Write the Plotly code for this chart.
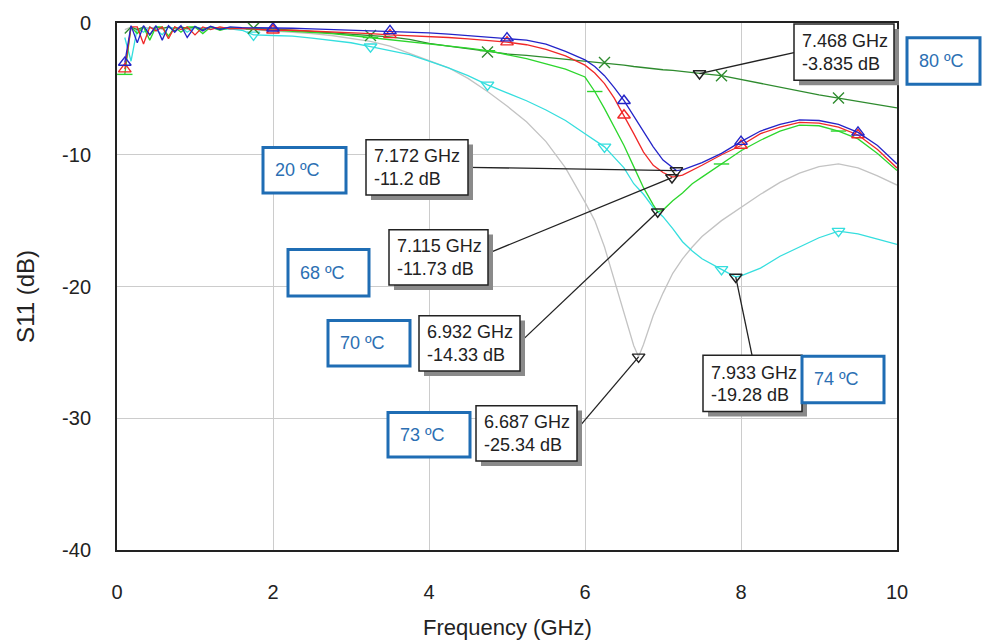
import plotly.graph_objects as go

# ---------------------------------------------------------------------------
# Measured S11 of the tunable antenna at six temperatures
# ---------------------------------------------------------------------------
FREQ_GHZ = [0.1, 0.18, 0.26, 0.34, 0.42, 0.5, 0.58, 0.66, 0.74, 0.82, 0.9, 1.0, 1.1, 1.2, 1.32, 1.45, 1.6,
            1.75, 2.0, 2.25, 2.5, 2.75, 3.0, 3.25, 3.5, 3.75, 4.0, 4.25, 4.5, 4.75, 5.0, 5.25, 5.5, 5.75,
            6.0, 6.125, 6.25, 6.375, 6.5, 6.625, 6.75, 6.875, 7.0, 7.125, 7.25, 7.375, 7.5,
            7.75, 8.0, 8.25, 8.5, 8.75, 9.0, 9.25, 9.5, 9.75, 10.0]

S11_20C = [-3.0, -0.2, -1.5, -0.2, -0.9, -0.2, -1.3, -0.2, -0.7, -0.2, -1.1, -0.25, -0.6, -0.25, -0.5, -0.3, -0.35,
           -0.35, -0.4, -0.4, -0.45, -0.5, -0.5, -0.55, -0.6, -0.7, -0.75, -0.85, -0.95, -1.05, -1.15, -1.3, -1.6, -2.15,
           -2.8, -3.3, -4.0, -4.9, -5.9, -7.1, -8.3, -9.4, -10.4, -11.0, -11.15, -10.9, -10.6,
           -9.9, -9.0, -8.2, -7.7, -7.35, -7.4, -7.7, -8.3, -9.3, -10.7]

S11_68C = [-3.5, -0.3, -0.3, -1.6, -0.3, -0.6, -0.3, -1.2, -0.3, -0.5, -0.3, -0.9, -0.3, -0.5, -0.3, -0.45, -0.4,
           -0.45, -0.55, -0.55, -0.6, -0.65, -0.7, -0.8, -0.9, -0.95, -1.0, -1.1, -1.2, -1.3, -1.45, -1.65, -2.0, -2.5,
           -3.2, -3.8, -4.6, -5.7, -7.0, -8.4, -9.8, -10.8, -11.35, -11.7, -11.55, -11.2, -10.8,
           -10.0, -9.3, -8.4, -7.9, -7.55, -7.6, -7.9, -8.5, -9.6, -11.0]

S11_70C = [-3.9, -0.3, -0.8, -0.3, -1.3, -0.3, -0.3, -1.0, -0.3, -0.7, -0.3, -0.3, -0.8, -0.3, -0.55, -0.35, -0.4,
           -0.45, -0.5, -0.6, -0.7, -0.8, -0.95, -1.1, -1.25, -1.4, -1.55, -1.7, -1.9, -2.1, -2.4, -2.7, -3.1, -3.5,
           -4.1, -5.2, -6.5, -7.9, -9.3, -10.9, -12.5, -13.8, -14.2, -13.5, -12.9, -12.2, -11.7,
           -10.7, -9.7, -8.9, -8.2, -7.75, -7.8, -8.2, -8.8, -9.9, -11.2]

S11_73C = [-0.5, -0.3, -0.6, -0.3, -0.4, -0.3, -0.5, -0.3, -0.4, -0.3, -0.5, -0.35, -0.4, -0.35, -0.45, -0.4, -0.45,
           -0.5, -0.6, -0.7, -0.8, -0.95, -1.15, -1.4, -1.75, -2.3, -2.8, -3.4, -4.2, -5.2, -6.3, -7.5, -9.0, -11.0,
           -13.6, -15.0, -17.0, -19.5, -22.1, -24.5, -24.4, -22.2, -20.5, -19.0, -17.9, -17.0, -16.2,
           -15.0, -14.0, -13.0, -12.1, -11.4, -10.9, -10.7, -11.0, -11.6, -12.3]

S11_74C = [-1.1, -2.9, -0.4, -0.7, -0.3, -0.5, -0.9, -0.3, -0.4, -0.3, -0.7, -0.3, -0.4, -0.35, -0.5, -0.45, -0.55,
           -0.9, -0.95, -1.0, -1.15, -1.3, -1.5, -1.8, -2.1, -2.4, -2.9, -3.4, -4.0, -4.7, -5.3, -5.9, -6.6, -7.4,
           -8.4, -8.9, -9.4, -10.2, -11.0, -12.2, -13.0, -14.0, -14.7, -15.6, -16.6, -17.3, -17.9,
           -18.7, -19.2, -18.6, -17.7, -17.0, -16.3, -15.8, -16.0, -16.4, -16.8]

S11_80C = [-0.8, -0.3, -0.5, -0.3, -0.9, -0.3, -0.4, -0.3, -0.6, -0.3, -0.4, -0.3, -0.5, -0.3, -0.4, -0.35, -0.4,
           -0.4, -0.45, -0.55, -0.65, -0.75, -0.85, -0.95, -1.05, -1.25, -1.55, -1.75, -1.95, -2.2, -2.35, -2.45, -2.6, -2.75,
           -2.9, -2.95, -3.0, -3.1, -3.2, -3.3, -3.4, -3.5, -3.55, -3.6, -3.7, -3.8, -3.85,
           -4.0, -4.3, -4.6, -4.9, -5.2, -5.45, -5.7, -5.95, -6.2, -6.45]

# marker read-outs (frequency GHz, S11 dB)
READOUT_20C = (7.172, -11.2)
READOUT_68C = (7.115, -11.73)
READOUT_70C = (6.932, -14.33)
READOUT_73C = (6.687, -25.34)
READOUT_74C = (7.933, -19.28)
READOUT_80C = (7.468, -3.835)

# frequencies carrying the trace symbols
SYMBOLS_20C = [0.1, 2.0, 3.5, 5.0, 6.5, 8.0, 9.5]
SYMBOLS_68C = [0.1, 2.0, 3.5, 5.0, 6.5, 8.0, 9.5]
SYMBOLS_70C = [0.1, 1.75, 3.25, 4.75, 6.125, 7.75, 9.25]
SYMBOLS_74C = [1.75, 3.25, 4.75, 6.25, 7.75, 9.25]
SYMBOLS_80C = [1.75, 3.25, 4.75, 6.25, 7.75, 9.25]

X_TICKS = [0, 2, 4, 6, 8, 10]
Y_TICKS = [-40, -30, -20, -10, 0]
X_TICK_TEXT = ["0", "2", "4", "6", "8", "10"]
Y_TICK_TEXT = ["-40", "-30", "-20", "-10", "0"]

# ---------------------------------------------------------------------------
# geometry helpers (plot area in pixels)
# ---------------------------------------------------------------------------
W, H = 982, 642
L, R, T, B = 117, 897, 17, 550
X_RANGE = (0, 10)
Y_RANGE = (-40, 0)


def paper_x(px):
    return (px - L) / (R - L)


def paper_y(py):
    return (B - py) / (B - T)


def data_x(px):
    return X_RANGE[0] + (px - L) / (R - L) * (X_RANGE[1] - X_RANGE[0])


def data_y(py):
    return Y_RANGE[0] + (B - py) / (B - T) * (Y_RANGE[1] - Y_RANGE[0])


def merged(freq, vals, readout):
    pts = sorted(list(zip(freq, vals)) + [readout])
    return [p[0] for p in pts], [p[1] for p in pts]


def picks(freq, vals, wanted):
    lookup = dict(zip(freq, vals))
    return wanted, [lookup[f] for f in wanted]


series = [
    dict(vals=S11_73C, ro=READOUT_73C, sym=None, color="#c3c3c3", symbol=None,
         label="73", lbox=(388, 411, 470, 456), rbox=(476, 404, 577, 460), anchor=(577, 428)),
    dict(vals=S11_74C, ro=READOUT_74C, sym=SYMBOLS_74C, color="#35dede", symbol="triangle-down-open",
         label="74", lbox=(802, 354, 884, 401), rbox=(703, 353, 802, 410), anchor=(752, 353)),
    dict(vals=S11_80C, ro=READOUT_80C, sym=SYMBOLS_80C, color="#2e8b2e", symbol="x-thin-open",
         label="80", lbox=(907, 32, 980, 79), rbox=(794, 18, 894, 75), anchor=(794, 47)),
    dict(vals=S11_70C, ro=READOUT_70C, sym=SYMBOLS_70C, color="#2cd62c", symbol="line-ew-open",
         label="70", lbox=(328, 318, 410, 364), rbox=(419, 313, 520, 369), anchor=(520, 340)),
    dict(vals=S11_68C, ro=READOUT_68C, sym=SYMBOLS_68C, color="#f02828", symbol="triangle-up-open",
         label="68", lbox=(288, 246, 369, 293), rbox=(389, 226, 488, 282), anchor=(488, 250)),
    dict(vals=S11_20C, ro=READOUT_20C, sym=SYMBOLS_20C, color="#2424c8", symbol="triangle-up-open",
         label="20", lbox=(263, 143, 346, 189), rbox=(366, 135, 468, 191), anchor=(468, 163)),
]

fig = go.Figure()
shapes = []
annotations = []

for s in series:
    fx, fy = merged(FREQ_GHZ, s["vals"], s["ro"])
    fig.add_trace(go.Scatter(x=fx, y=fy, mode="lines",
                             line=dict(color=s["color"], width=1.3), hoverinfo="skip"))
    if s["sym"]:
        mx, my = picks(FREQ_GHZ, s["vals"], s["sym"])
        fig.add_trace(go.Scatter(x=mx, y=my, mode="markers",
                                 marker=dict(symbol=s["symbol"], size=11, color=s["color"],
                                             line=dict(color=s["color"], width=1.4)),
                                 hoverinfo="skip"))

for s in series:
    f, v = s["ro"]
    # readout triangle on the curve
    fig.add_trace(go.Scatter(x=[f], y=[v], mode="markers",
                             marker=dict(symbol="triangle-down-open", size=11, color="#222222",
                                         line=dict(color="#222222", width=1.4)),
                             hoverinfo="skip"))
    # leader line from readout box to the marker
    ax, ay = s["anchor"]
    shapes.append(dict(type="line", xref="x", yref="y", x0=data_x(ax), y0=data_y(ay), x1=f, y1=v,
                       line=dict(color="#222222", width=1.3), layer="above"))
    # readout box with drop shadow
    x0, y0, x1, y1 = s["rbox"]
    shapes.append(dict(type="rect", xref="paper", yref="paper",
                       x0=paper_x(x0 + 5), x1=paper_x(x1 + 5), y0=paper_y(y1 + 5), y1=paper_y(y0 + 5),
                       fillcolor="#8a8a8a", line=dict(width=0), layer="above"))
    shapes.append(dict(type="rect", xref="paper", yref="paper",
                       x0=paper_x(x0), x1=paper_x(x1), y0=paper_y(y1), y1=paper_y(y0),
                       fillcolor="white", line=dict(color="#222222", width=1.5), layer="above"))
    yc = (y0 + y1) / 2
    for line_text, dy in ((f"{f:g} GHz", -11), (f"{v:g} dB", 12)):
        annotations.append(dict(xref="paper", yref="paper", x=paper_x(x0 + 6), y=paper_y(yc + dy),
                                xanchor="left", yanchor="middle", showarrow=False,
                                text=line_text, font=dict(size=18, color="#222222")))
    # temperature label
    x0, y0, x1, y1 = s["lbox"]
    shapes.append(dict(type="rect", xref="paper", yref="paper",
                       x0=paper_x(x0), x1=paper_x(x1), y0=paper_y(y1), y1=paper_y(y0),
                       fillcolor="white", line=dict(color="#1f6db4", width=3), layer="above"))
    annotations.append(dict(xref="paper", yref="paper", x=paper_x(x0 + 10), y=paper_y((y0 + y1) / 2),
                            xanchor="left", yanchor="middle", showarrow=False,
                            text=f"{s['label']} ºC",
                            font=dict(size=18, color="#2c6fb3")))

# axis titles
annotations.append(dict(xref="paper", yref="paper", x=0.5, y=paper_y(628), xanchor="center",
                        yanchor="middle", showarrow=False, text="Frequency (GHz)",
                        font=dict(size=22, color="#222222")))
annotations.append(dict(xref="paper", yref="paper", x=paper_x(26), y=paper_y(294), xanchor="center",
                        yanchor="middle", showarrow=False, text="S11 (dB)", textangle=-90,
                        font=dict(size=24, color="#222222")))

axis_common = dict(showgrid=True, gridcolor="#cccccc", gridwidth=1, zeroline=False,
                   showline=True, linecolor="#222222", linewidth=2, mirror=True, ticks="",
                   tickfont=dict(size=20, color="#222222"))

fig.update_layout(
    width=W, height=H,
    margin=dict(l=L, r=W - R, t=T, b=H - B),
    paper_bgcolor="white", plot_bgcolor="white",
    showlegend=False,
    font=dict(family="Liberation Sans, Arial, sans-serif"),
    xaxis=dict(range=list(X_RANGE), tickvals=X_TICKS, ticktext=X_TICK_TEXT,
               ticklabelstandoff=23, **axis_common),
    yaxis=dict(range=list(Y_RANGE), tickvals=Y_TICKS, ticktext=Y_TICK_TEXT,
               ticklabelstandoff=20, **axis_common),
    shapes=shapes,
    annotations=annotations,
)

fig.write_html("out.html")
